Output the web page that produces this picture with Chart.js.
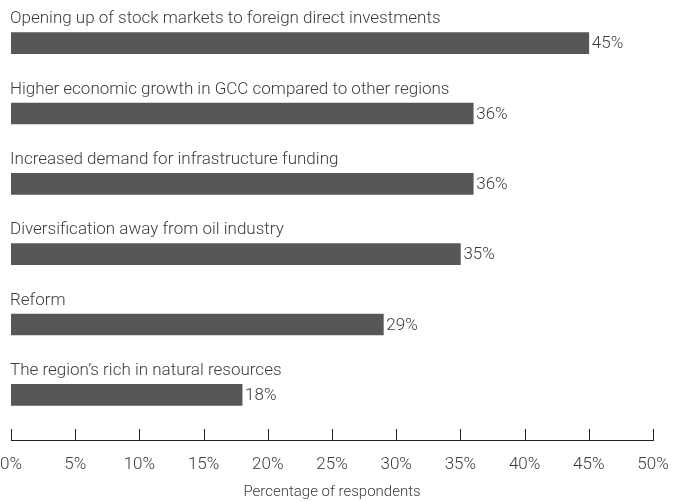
<!DOCTYPE html>
<html>
<head>
<meta charset="utf-8">
<script src="https://cdn.jsdelivr.net/npm/chart.js@4"></script>
<style>
  html, body { margin: 0; padding: 0; background: #fff; }
  #wrap { width: 673px; height: 502px; }
</style>
</head>
<body>
<div id="wrap"><canvas id="barChart"></canvas></div>
<script>
const categories = [
  'Opening up of stock markets to foreign direct investments',
  'Higher economic growth in GCC compared to other regions',
  'Increased demand for infrastructure funding',
  'Diversification away from oil industry',
  'Reform',
  'The region\u2019s rich in natural resources'
];
const percentages = [45, 36, 36, 35, 29, 18];
const xTicks = [0, 5, 10, 15, 20, 25, 30, 35, 40, 45, 50];

const FONT = 'Roboto, "Noto Sans", sans-serif';
const TEXT = '#3c3c3c';

// labels above the bars, values after them, and the axis line with upward ticks
const decorate = {
  id: 'decorate',
  afterDatasetsDraw(chart) {
    const ctx = chart.ctx;
    const meta = chart.getDatasetMeta(0);
    const xs = chart.scales.x;
    ctx.save();
    ctx.font = '300 17px ' + FONT;
    ctx.fillStyle = TEXT;
    ctx.textBaseline = 'middle';
    ctx.textAlign = 'left';
    meta.data.forEach(function (bar, i) {
      ctx.fillText(categories[i], 10, bar.y - 24);
      ctx.fillText(percentages[i] + '%', bar.x + 3, bar.y + 1);
    });

    const axisY = chart.chartArea.bottom + 10;
    ctx.strokeStyle = '#222';
    ctx.lineWidth = 1;
    ctx.beginPath();
    ctx.moveTo(xs.getPixelForValue(0), axisY + 0.5);
    ctx.lineTo(xs.getPixelForValue(50) + 1, axisY + 0.5);
    xTicks.forEach(function (t) {
      const px = Math.round(xs.getPixelForValue(t)) + 0.5;
      ctx.moveTo(px, axisY + 1);
      ctx.lineTo(px, axisY - 11);
    });
    ctx.stroke();
    ctx.restore();
  }
};

new Chart(document.getElementById('barChart'), {
  type: 'bar',
  data: {
    labels: categories,
    datasets: [
      {
        data: percentages,
        backgroundColor: '#575757',
        barThickness: 21
      }
    ]
  },
  options: {
    indexAxis: 'y',
    responsive: true,
    maintainAspectRatio: false,
    animation: false,
    layout: { padding: { left: 11, right: 20, top: 8, bottom: 0 } },
    plugins: {
      legend: { display: false },
      tooltip: { enabled: false }
    },
    scales: {
      y: { display: false },
      x: {
        min: 0,
        max: 50,
        afterBuildTicks: function (scale) {
          scale.ticks = xTicks.map(function (v) { return { value: v }; });
        },
        afterFit: function (scale) {
          scale.height = 72;
          scale.paddingLeft = 0;
          scale.paddingRight = 0;
        },
        grid: { display: false, drawTicks: false },
        border: { display: false },
        ticks: {
          padding: 25,
          maxRotation: 0,
          color: TEXT,
          font: { family: FONT, size: 17, weight: 300 },
          callback: function (v) { return v + '%'; }
        },
        title: {
          display: true,
          text: 'Percentage of respondents',
          color: TEXT,
          font: { family: FONT, size: 15, weight: 300 },
          padding: { top: 4, bottom: 1 }
        }
      }
    }
  },
  plugins: [decorate]
});
</script>
</body>
</html>
